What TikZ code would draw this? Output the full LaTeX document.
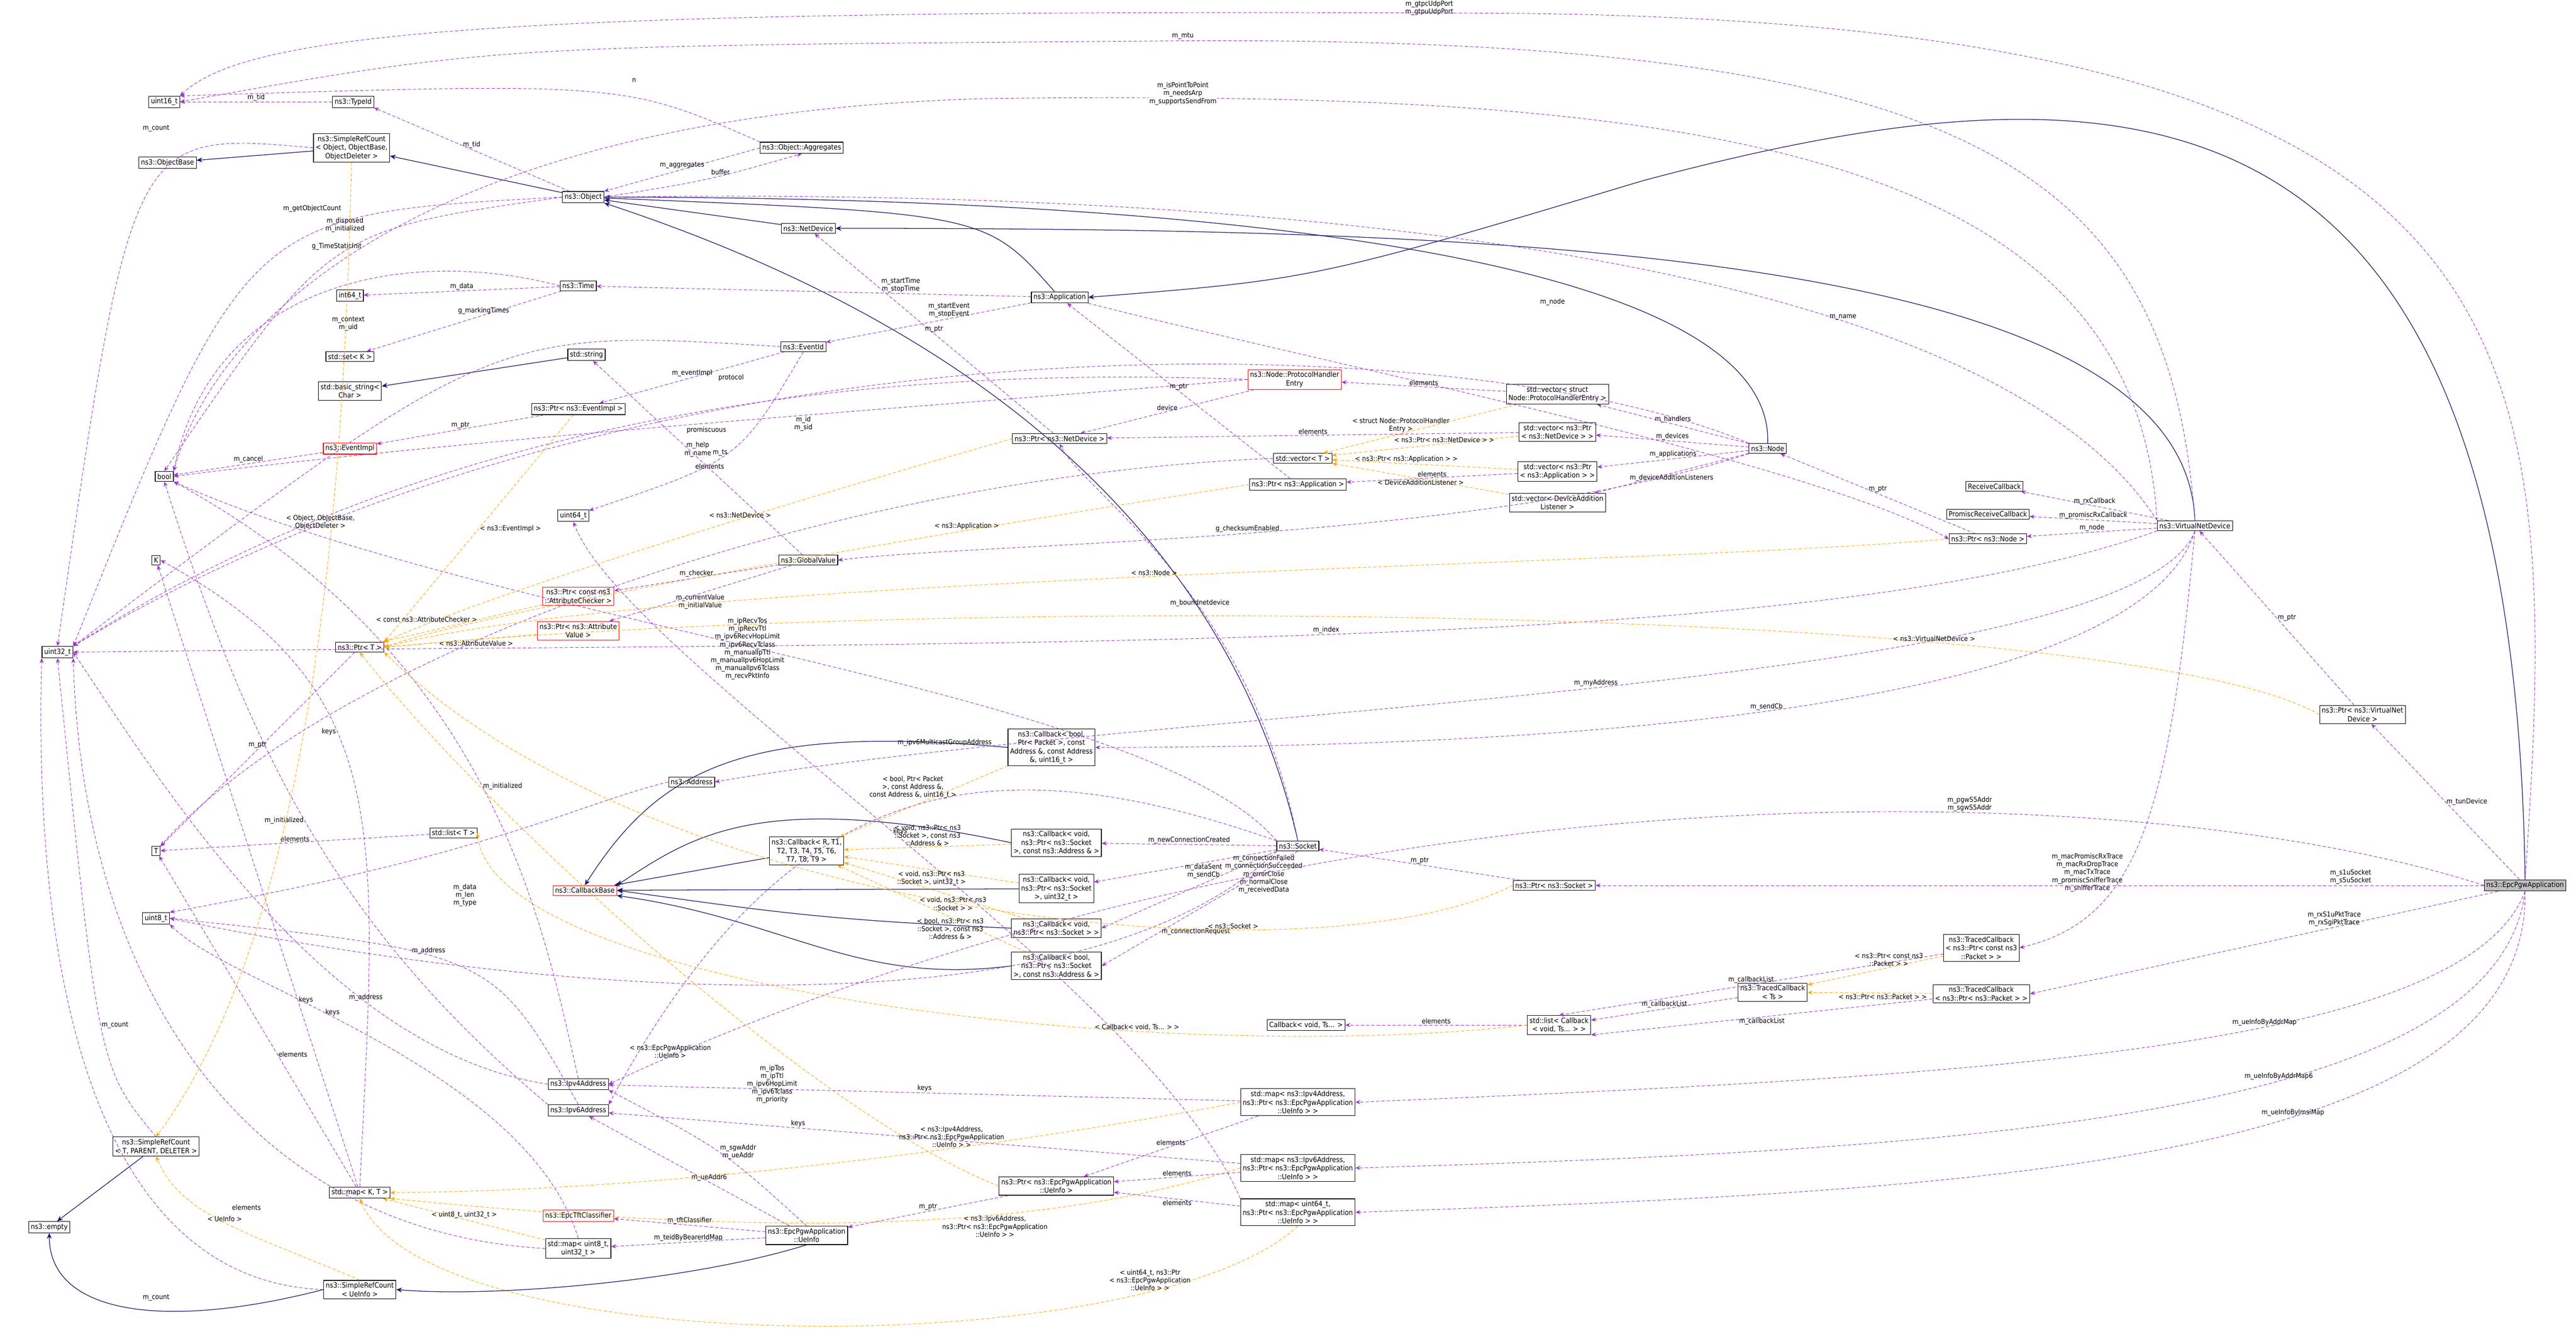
\documentclass[tikz,border=0pt]{standalone}
\usepackage{fontspec}
\setmainfont{DejaVu Sans Condensed}
\usetikzlibrary{arrows.meta}
\definecolor{pur}{HTML}{9A32CD}
\definecolor{nav}{HTML}{191970}
\definecolor{org}{HTML}{FFA500}
\tikzset{
 box/.style={draw=black, fill=white, font=\fontsize{4.4}{5.2}\selectfont, inner sep=1.3pt, align=center, line width=0.35pt},
 rbox/.style={box, draw=red},
 gbox/.style={box, fill=black!25},
 use/.style={draw=pur, dashed, dash pattern=on 2pt off 1.2pt, line width=0.3pt, -{Stealth[length=3pt,width=2.5pt]}},
 inh/.style={draw=nav, line width=0.4pt, -{Stealth[length=3.5pt,width=3pt]}},
 tpl/.style={draw=org, dashed, dash pattern=on 2pt off 1.2pt, line width=0.3pt, -{Stealth[length=3pt,width=2.5pt]}},
 lab/.style={font=\fontsize{4.2}{4.8}\selectfont, align=center, inner sep=0.5pt},
}
\begin{document}
\begin{tikzpicture}[x=1pt,y=-1pt]
\useasboundingbox[fill=white] (0,0) rectangle (1568,815);
% nodes
\node[box] (u16) at (100,62) {uint16\_t};
\node[box] (tid) at (215,62) {ns3::TypeId};
\node[box] (src) at (214,90) {ns3::SimpleRefCount\\< Object, ObjectBase,\\ ObjectDeleter >};
\node[box] (ob) at (102,99) {ns3::ObjectBase};
\node[box] (obj) at (355,120) {ns3::Object};
\node[box] (agg) at (488,90) {ns3::Object::Aggregates};
\node[box] (nd) at (492,139) {ns3::NetDevice};
\node[box] (i64) at (213,180) {int64\_t};
\node[box] (time) at (352,174) {ns3::Time};
\node[box] (setk) at (213,217) {std::set< K >};
\node[box] (bstr) at (213,238) {std::basic\_string<\\ Char >};
\node[box] (str) at (357,216) {std::string};
\node[box] (eid) at (489,211) {ns3::EventId};
\node[box] (app) at (645,181) {ns3::Application};
\node[rbox] (phe) at (788,231) {ns3::Node::ProtocolHandler\\Entry};
\node[box] (vphe) at (948,240) {std::vector< struct\\ Node::ProtocolHandlerEntry >};
\node[box] (pei) at (352,249) {ns3::Ptr< ns3::EventImpl >};
\node[rbox] (ei) at (213,273) {ns3::EventImpl};
\node[box] (bool) at (100,290) {bool};
\node[box] (pnd) at (645,267) {ns3::Ptr< ns3::NetDevice >};
\node[box] (vpnd) at (948,263) {std::vector< ns3::Ptr\\< ns3::NetDevice > >};
\node[box] (vt) at (793,279) {std::vector< T >};
\node[box] (node) at (1076,273) {ns3::Node};
\node[box] (vpapp) at (948,287) {std::vector< ns3::Ptr\\< ns3::Application > >};
\node[box] (papp) at (790,295) {ns3::Ptr< ns3::Application >};
\node[box] (vdal) at (948,306) {std::vector< DeviceAddition\\Listener >};
\node[box] (u64) at (349,314) {uint64\_t};
\node[box] (gv) at (492,341) {ns3::GlobalValue};
\node[box] (rcb) at (1214,296) {ReceiveCallback};
\node[box] (prcb) at (1210,313) {PromiscReceiveCallback};
\node[box] (pnode) at (1210,328) {ns3::Ptr< ns3::Node >};
\node[box] (vnd) at (1336,320) {ns3::VirtualNetDevice};
\node[box] (K) at (95,341) {K};
\node[rbox] (pac) at (352,363) {ns3::Ptr< const ns3\\::AttributeChecker >};
\node[box] (u32) at (35,397) {uint32\_t};
\node[box] (pt) at (219,394) {ns3::Ptr< T >};
\node[rbox] (pav) at (352,384) {ns3::Ptr< ns3::Attribute\\Value >};
\node[box] (pvnd) at (1438,435) {ns3::Ptr< ns3::VirtualNet\\Device >};
\node[box] (cbb5) at (640,455) {ns3::Callback< bool,\\ Ptr< Packet >, const\\ Address \&, const Address\\ \&, uint16\_t >};
\node[box] (addr) at (421,476) {ns3::Address};
\node[box] (lt) at (276,507) {std::list< T >};
\node[box] (T) at (95,518) {T};
\node[box] (cbr) at (491,518) {ns3::Callback< R, T1,\\ T2, T3, T4, T5, T6,\\ T7, T8, T9 >};
\node[rbox] (cbase) at (356,542) {ns3::CallbackBase};
\node[box] (cb1) at (643,513) {ns3::Callback< void,\\ ns3::Ptr< ns3::Socket\\ >, const ns3::Address \& >};
\node[box] (sock) at (790,515) {ns3::Socket};
\node[box] (psock) at (946,539) {ns3::Ptr< ns3::Socket >};
\node[gbox] (pgw) at (1537,539) {ns3::EpcPgwApplication};
\node[box] (u8) at (95,559) {uint8\_t};
\node[box] (cb2) at (643,541) {ns3::Callback< void,\\ ns3::Ptr< ns3::Socket\\ >, uint32\_t >};
\node[box] (cb3) at (643,565) {ns3::Callback< void,\\ ns3::Ptr< ns3::Socket > >};
\node[box] (cb4) at (643,588) {ns3::Callback< bool,\\ ns3::Ptr< ns3::Socket\\ >, const ns3::Address \& >};
\node[box] (tcc) at (1206,577) {ns3::TracedCallback\\< ns3::Ptr< const ns3\\::Packet > >};
\node[box] (tcts) at (1079,604) {ns3::TracedCallback\\< Ts >};
\node[box] (tcp) at (1206,605) {ns3::TracedCallback\\< ns3::Ptr< ns3::Packet > >};
\node[box] (cbts) at (795,624) {Callback< void, Ts... >};
\node[box] (lcb) at (949,624) {std::list< Callback\\< void, Ts... > >};
\node[box] (ip4) at (352,660) {ns3::Ipv4Address};
\node[box] (ip6) at (352,676) {ns3::Ipv6Address};
\node[box] (srt) at (95,698) {ns3::SimpleRefCount\\< T, PARENT, DELETER >};
\node[box] (m4) at (790,671) {std::map< ns3::Ipv4Address,\\ ns3::Ptr< ns3::EpcPgwApplication\\::UeInfo > >};
\node[box] (mkt) at (219,726) {std::map< K, T >};
\node[box] (pue) at (643,722) {ns3::Ptr< ns3::EpcPgwApplication\\::UeInfo >};
\node[box] (m6) at (790,711) {std::map< ns3::Ipv6Address,\\ ns3::Ptr< ns3::EpcPgwApplication\\::UeInfo > >};
\node[box] (m64) at (790,738) {std::map< uint64\_t,\\ ns3::Ptr< ns3::EpcPgwApplication\\::UeInfo > >};
\node[box] (empty) at (30,747) {ns3::empty};
\node[rbox] (tft) at (352,740) {ns3::EpcTftClassifier};
\node[box] (ue) at (491,752) {ns3::EpcPgwApplication\\::UeInfo};
\node[box] (m8) at (352,760) {std::map< uint8\_t,\\ uint32\_t >};
\node[box] (sru) at (219,785) {ns3::SimpleRefCount\\< UeInfo >};
% inheritance
\draw[inh] (src) -- (ob);
\draw[inh] (obj) -- (src);
\draw[inh] (nd) -- (obj);
\draw[inh] (app) .. controls (600,130) .. (obj);
\draw[inh] (node.north) .. controls (1080,150) and (700,120) .. (obj.east);
\draw[inh] (sock.north) .. controls (760,380) and (660,220) .. (obj.south east);
\draw[inh] (vnd.north) .. controls (1330,150) and (900,139) .. (nd);
\draw[inh] (pgw.north) .. controls (1530,40) and (1300,30) .. (1000,110) .. controls (800,170) .. (app.east);
\draw[inh] (str) -- (bstr);
\draw[inh] (cbr) -- (cbase);
\draw[inh] (cbb5.west) .. controls (450,440) and (400,470) .. (cbase.north);
\draw[inh] (cb1.west) .. controls (460,480) and (420,510) .. (cbase.north east);
\draw[inh] (cb2) -- (cbase);
\draw[inh] (cb3.west) .. controls (500,560) and (470,555) .. (cbase.east);
\draw[inh] (cb4.west) .. controls (520,600) and (480,560) .. (cbase.south east);
\draw[inh] (srt) -- (empty);
\draw[inh] (sru.west) .. controls (100,810) and (30,800) .. (empty.south);
\draw[inh] (ue.south) .. controls (420,780) and (300,790) .. (sru.east);
% usage edges
\draw[use] (pgw.north) .. controls (1560,200) and (1550,10) .. (900,8) .. controls (300,5) and (150,20) .. (u16.north east);
\node[lab] at (870,5) {m\_gtpcUdpPort\\m\_gtpuUdpPort};
\draw[use] (vnd.north) .. controls (1320,100) and (1200,20) .. (700,25) .. controls (300,28) .. (u16.east);
\node[lab] at (720,22) {m\_mtu};
\draw[use] (vnd.north west) .. controls (1300,80) and (1000,55) .. (600,60) .. controls (250,70) and (130,200) .. (bool.north east);
\node[lab,fill=white] at (720,57) {m\_isPointToPoint\\m\_needsArp\\m\_supportsSendFrom};
\draw[use] (tid) -- node[lab,above]{m\_tid} (u16);
\draw[use] (src.west) .. controls (80,80) .. (u32.north);
\node[lab] at (95,78) {m\_count};
\draw[use] (obj) -- node[lab,above]{m\_tid} (tid.south east);
\draw[use] (agg.west) -- node[lab,above]{m\_aggregates} (obj.north east);
\draw[use] (obj.east) .. controls (430,110) .. node[lab,above,pos=0.6]{buffer} (agg.south);
\draw[use] (agg.north west) .. controls (380,50) .. (u16.north east);
\node[lab] at (386,49) {n};
\draw[use] (obj.west) .. controls (200,140) .. (bool.north);
\node[lab] at (210,137) {m\_disposed\\m\_initialized};
\draw[use] (obj.west) .. controls (150,130) .. (u32.north east);
\node[lab] at (190,127) {m\_getObjectCount};
\draw[use] (time) -- node[lab,above]{m\_data} (i64);
\draw[use] (time.west) .. controls (250,150) and (130,170) .. (bool.north east);
\node[lab] at (205,150) {g\_TimeStaticInit};
\draw[use] (time) -- node[lab,above,pos=0.4]{g\_markingTimes} (setk);
\draw[use] (app) -- node[lab,above,pos=0.3]{m\_startTime\\m\_stopTime} (time);
\draw[use] (app) -- node[lab,above,pos=0.4]{m\_startEvent\\m\_stopEvent} (eid);
\draw[use] (eid.west) .. controls (300,200) .. (u32.north east);
\node[lab] at (212,197) {m\_context\\m\_uid};
\draw[use] (eid) -- node[lab,above]{m\_eventImpl} (pei);
\draw[use] (pei) -- node[lab,above]{m\_ptr} (ei);
\draw[use] (ei) -- node[lab,above]{m\_cancel} (bool);
\draw[use] (app.south east) .. controls (800,220) and (1100,280) .. (pnode.west);
\node[lab] at (945,184) {m\_node};
\draw[use] (phe) -- node[lab,above]{device} (pnd);
\draw[use] (phe.west) .. controls (600,245) and (300,265) .. (bool.east);
\node[lab] at (430,262) {promiscuous};
\draw[use] (phe.west) .. controls (600,225) and (300,230) .. (u32.north east);
\node[lab] at (445,230) {protocol};
\draw[use] (vphe) -- node[lab,above]{elements} (phe);
\draw[use] (node) -- node[lab,above]{m\_handlers} (vphe);
\draw[use] (node) -- node[lab,above]{m\_devices} (vpnd);
\draw[use] (node) -- node[lab,above]{m\_applications} (vpapp);
\draw[use] (node) -- node[lab,below]{m\_deviceAdditionListeners} (vdal);
\draw[use] (vpnd) -- node[lab,above]{elements} (pnd);
\draw[use] (vpapp) -- node[lab,above]{elements} (papp);
\draw[use] (pnd) -- node[lab,above]{m\_ptr} (nd);
\draw[use] (papp) -- node[lab,above]{m\_ptr} (app);
\draw[use] (node.north west) .. controls (900,200) and (400,180) .. (u32.north east);
\node[lab] at (489,258) {m\_id\\m\_sid};
\draw[use] (vt.west) .. controls (500,290) and (200,400) .. (T.north east);
\node[lab] at (432,284) {elements};
\draw[use] (pnode) -- node[lab,above]{m\_ptr} (node);
\draw[use] (vnd) -- node[lab,above]{m\_node} (pnode);
\draw[use] (vnd) -- node[lab,above]{m\_rxCallback} (rcb);
\draw[use] (vnd) -- node[lab,above]{m\_promiscRxCallback} (prcb);
\draw[use] (vnd.north west) .. controls (1200,140) and (700,115) .. node[lab,above,pos=0.3]{m\_name} (obj.east);
\draw[use] (gv) -- node[lab,above]{m\_help\\m\_name} (str);
\draw[use] (gv) -- node[lab,above]{m\_checker} (pac);
\draw[use] (gv) -- node[lab,below]{m\_currentValue\\m\_initialValue} (pav);
\draw[use] (node.south west) .. controls (900,330) and (600,330) .. node[lab,above,pos=0.5]{g\_checksumEnabled} (gv.east);
\draw[use] (eid.south) .. controls (450,280) .. node[lab,left]{m\_ts} (u64);
\draw[use] (sock.north) .. controls (760,360) and (660,300) .. node[lab,above,pos=0.4]{m\_boundnetdevice} (pnd.south);
\draw[use] (vnd.south west) .. controls (1100,400) and (600,390) .. node[lab,above,pos=0.5]{m\_index} (u32.east);
\draw[use] (vnd.south) .. controls (1300,420) and (700,430) .. node[lab,above,pos=0.5]{m\_myAddress} (addr.east);
\draw[use] (vnd.south) .. controls (1300,440) and (900,455) .. node[lab,above,pos=0.5]{m\_sendCb} (cbb5.east);
\draw[use] (pvnd) -- node[lab,right]{m\_ptr} (vnd);
\draw[use] (pgw) -- node[lab,right,pos=0.5]{m\_tunDevice} (pvnd);
\draw[use] (sock.north west) .. controls (700,420) and (300,380) .. (bool.south east);
\node[lab] at (455,395) {m\_ipRecvTos\\m\_ipRecvTtl\\m\_ipv6RecvHopLimit\\m\_ipv6RecvTclass\\m\_manualIpTtl\\m\_manualIpv6HopLimit\\m\_manualIpv6Tclass\\m\_recvPktInfo};
\draw[use] (sock.north west) .. controls (600,450) and (480,470) .. (ip6.north east);
\node[lab] at (575,452) {m\_ipv6MulticastGroupAddress};
\draw[use] (sock) -- node[lab,above]{m\_newConnectionCreated} (cb1);
\draw[use] (sock) -- node[lab,below,pos=0.4]{m\_dataSent\\m\_sendCb} (cb2);
\draw[use] (sock.south west) -- node[lab,right,pos=0.3]{m\_connectionFailed\\m\_connectionSucceeded\\m\_errorClose\\m\_normalClose\\m\_receivedData} (cb3.east);
\draw[use] (sock.south) -- node[lab,right,pos=0.7]{m\_connectionRequest} (cb4.east);
\draw[use] (addr.west) .. controls (350,490) and (300,520) .. (u8.north east);
\node[lab] at (283,545) {m\_data\\m\_len\\m\_type};
\draw[use] (lt) -- node[lab,above]{elements} (T);
\draw[use] (pt) -- node[lab,above]{m\_ptr} (T);
\draw[use] (psock) -- node[lab,above]{m\_ptr} (sock);
\draw[use] (pgw) -- node[lab,above,pos=0.15]{m\_s1uSocket\\m\_s5uSocket} (psock);
\draw[use] (vnd.south) .. controls (1320,500) and (1300,560) .. node[lab,left,pos=0.6]{m\_macPromiscRxTrace\\m\_macRxDropTrace\\m\_macTxTrace\\m\_promiscSnifferTrace\\m\_snifferTrace} (tcc.east);
\draw[use] (pgw) -- node[lab,above,pos=0.35]{m\_rxS1uPktTrace\\m\_rxSgiPktTrace} (tcp.east);
\draw[use] (tcc) -- node[lab,above]{m\_callbackList} (lcb.north);
\draw[use] (tcts) -- node[lab,above]{m\_callbackList} (lcb);
\draw[use] (tcp) -- node[lab,below]{m\_callbackList} (lcb.south east);
\draw[use] (lcb) -- node[lab,above]{elements} (cbts);
\draw[use] (pgw.south) .. controls (1500,640) and (1200,655) .. node[lab,above,pos=0.4]{m\_ueInfoByAddrMap} (m4.east);
\draw[use] (pgw.south) .. controls (1520,680) and (1200,700) .. node[lab,above,pos=0.4]{m\_ueInfoByAddrMap6} (m6.east);
\draw[use] (pgw.south) .. controls (1540,710) and (1200,725) .. node[lab,above,pos=0.4]{m\_ueInfoByImsiMap} (m64.east);
\draw[use] (pgw.west) .. controls (1300,470) and (800,460) .. node[lab,above,pos=0.35]{m\_pgwS5Addr\\m\_sgwS5Addr} (ip4.east);
\draw[use] (m4) -- node[lab,above]{keys} (ip4);
\draw[use] (m6) -- node[lab,above,pos=0.7]{keys} (ip6);
\draw[use] (m4) -- node[lab,above]{elements} (pue);
\draw[use] (m6) -- node[lab,above]{elements} (pue);
\draw[use] (m64) -- node[lab,below]{elements} (pue);
\draw[use] (m64.north west) .. controls (700,600) and (380,400) .. node[lab,right,pos=0.5]{keys} (u64.south);
\draw[use] (pue) -- node[lab,above]{m\_ptr} (ue);
\draw[use] (ue) -- node[lab,above,pos=0.4]{m\_ueAddr6} (ip6);
\draw[use] (ue.north) .. controls (440,700) .. node[lab,right]{m\_sgwAddr\\m\_ueAddr} (ip4.south east);
\draw[use] (ue) -- node[lab,above]{m\_tftClassifier} (tft);
\draw[use] (ue) -- node[lab,above]{m\_teidByBearerIdMap} (m8);
\draw[use] (sock.south west) .. controls (650,640) and (300,600) .. (u8.east);
\node[lab] at (470,660) {m\_ipTos\\m\_ipTtl\\m\_ipv6HopLimit\\m\_ipv6Tclass\\m\_priority};
\draw[use] (m8.north) .. controls (320,650) and (140,600) .. node[lab,right,pos=0.6]{keys} (u8.south east);
\draw[use] (m8.west) .. controls (150,750) and (50,600) .. (u32.south east);
\node[lab] at (150,735) {elements};
\draw[use] (mkt) -- node[lab,right,pos=0.3]{keys} (K);
\draw[use] (mkt) -- node[lab,right,pos=0.4]{elements} (T);
\draw[use] (srt.north) .. controls (60,650) .. node[lab,right,pos=0.5]{m\_count} (u32.south);
\draw[use] (sru.west) .. controls (60,780) and (20,600) .. (u32.south west);
\node[lab] at (95,790) {m\_count};
\draw[use] (ip4.west) .. controls (200,640) and (100,480) .. node[lab,above,pos=0.3]{m\_address} (u32.east);
\draw[use] (ip6.north) .. controls (300,580) .. node[lab,above,pos=0.6]{m\_address} (u8.east);
\draw[use] (ip6.north west) .. controls (200,560) and (150,450) .. node[lab,left,pos=0.5]{m\_initialized} (bool.south);
\draw[use] (ip4.north) .. controls (330,560) and (300,400) .. node[lab,right,pos=0.5]{m\_initialized} (bool.south east);
\draw[use] (mkt.north) .. controls (230,500) and (240,420) .. node[lab,left,pos=0.6]{keys} (K.east);
% template edges
\draw[tpl] (src.south) .. controls (210,250) and (200,550) .. (srt.north);
\node[lab] at (195,318) {< Object, ObjectBase,\\ ObjectDeleter >};
\draw[tpl] (sru.north) .. controls (150,750) and (110,740) .. node[lab,above]{< UeInfo >} (srt.south);
\draw[tpl] (pei) -- node[lab,right,pos=0.5]{< ns3::EventImpl >} (pt.north east);
\draw[tpl] (pnd.west) .. controls (500,300) and (300,360) .. node[lab,above,pos=0.4]{< ns3::NetDevice >} (pt.north east);
\draw[tpl] (papp.west) .. controls (600,320) and (300,370) .. node[lab,above,pos=0.3]{< ns3::Application >} (pt.east);
\draw[tpl] (pnode.west) .. controls (1000,345) and (400,350) .. node[lab,above,pos=0.5]{< ns3::Node >} (pt.east);
\draw[tpl] (pac) -- node[lab,left,pos=0.4]{< const ns3::AttributeChecker >} (pt);
\draw[tpl] (pav) -- node[lab,below,pos=0.4]{< ns3::AttributeValue >} (pt.east);
\draw[tpl] (pvnd.west) .. controls (1300,370) and (600,360) .. node[lab,above,pos=0.3]{< ns3::VirtualNetDevice >} (pt.east);
\draw[tpl] (vphe) -- node[lab,above,pos=0.6]{< struct Node::ProtocolHandler\\ Entry >} (vt);
\draw[tpl] (vpnd) -- node[lab,above,pos=0.4]{< ns3::Ptr< ns3::NetDevice > >} (vt);
\draw[tpl] (vpapp) -- node[lab,above,pos=0.6]{< ns3::Ptr< ns3::Application > >} (vt);
\draw[tpl] (vdal) -- node[lab,below,pos=0.5]{< DeviceAdditionListener >} (vt);
\draw[tpl] (cbb5) -- node[lab,left,pos=0.3]{< bool, Ptr< Packet\\ >, const Address \&,\\ const Address \&, uint16\_t >} (cbr);
\draw[tpl] (cb1) -- node[lab,above]{< void, ns3::Ptr< ns3\\::Socket >, const ns3\\::Address \& >} (cbr);
\draw[tpl] (cb2) -- node[lab,below]{< void, ns3::Ptr< ns3\\::Socket >, uint32\_t >} (cbr);
\draw[tpl] (cb3) -- node[lab,below,pos=0.4]{< void, ns3::Ptr< ns3\\::Socket > >} (cbr);
\draw[tpl] (cb4) -- node[lab,below,pos=0.4]{< bool, ns3::Ptr< ns3\\::Socket >, const ns3\\::Address \& >} (cbr);
\draw[tpl] (psock.west) .. controls (800,600) and (400,560) .. node[lab,above,pos=0.3]{< ns3::Socket >} (pt.south east);
\draw[tpl] (tcc) -- node[lab,above,pos=0.4]{< ns3::Ptr< const ns3\\::Packet > >} (tcts);
\draw[tpl] (tcp) -- node[lab,below,pos=0.4]{< ns3::Ptr< ns3::Packet > >} (tcts);
\draw[tpl] (lcb.west) .. controls (700,650) and (300,600) .. node[lab,above,pos=0.3]{< Callback< void, Ts... > >} (lt.east);
\draw[tpl] (pue.west) .. controls (500,680) and (300,500) .. (pt.south);
\node[lab] at (408,640) {< ns3::EpcPgwApplication\\::UeInfo >};
\draw[tpl] (m4.west) .. controls (600,700) and (400,725) .. node[lab,above,pos=0.35]{< ns3::Ipv4Address,\\ ns3::Ptr< ns3::EpcPgwApplication\\::UeInfo > >} (mkt.east);
\draw[tpl] (m6.west) .. controls (600,760) and (400,745) .. node[lab,below,pos=0.3]{< ns3::Ipv6Address,\\ ns3::Ptr< ns3::EpcPgwApplication\\::UeInfo > >} (mkt.south east);
\draw[tpl] (m64.south) .. controls (700,830) and (260,830) .. node[lab,above,pos=0.2]{< uint64\_t, ns3::Ptr\\< ns3::EpcPgwApplication\\::UeInfo > >} (mkt.south);
\draw[tpl] (m8) -- node[lab,above]{< uint8\_t, uint32\_t >} (mkt);
\end{tikzpicture}
\end{document}
